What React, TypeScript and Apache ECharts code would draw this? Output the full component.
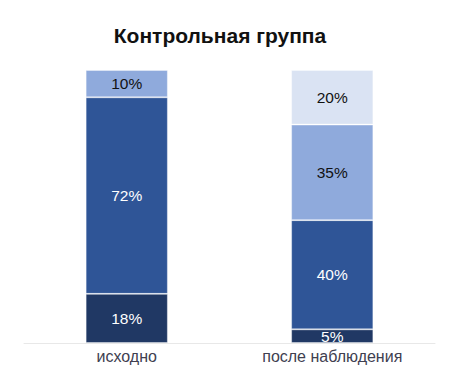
import React, { useEffect, useRef } from "react";
import * as echarts from "echarts";

const categories = ["исходно", "после наблюдения"];
const seriesNames = ["Уровень 1", "Уровень 2", "Уровень 3", "Уровень 4"];
const level1 = [18, 5];
const level2 = [72, 40];
const level3 = [10, 35];
const level4: (number | string)[] = ["-", 20];
const colors = ["#203864", "#2f5597", "#8faadc", "#dae3f3"];
const labelColors = ["#ffffff", "#ffffff", "#111111", "#111111"];

export default function App() {
  const ref = useRef<HTMLDivElement>(null);
  useEffect(() => {
    if (!ref.current) return;
    const chart = echarts.init(ref.current, undefined, { renderer: "svg" });
    const data = [level1, level2, level3, level4];
    chart.setOption({
      animation: false,
      title: {
        text: "Контрольная группа",
        left: 215,
        top: 20,
        textAlign: "center",
        textStyle: { fontFamily: "Arial, Liberation Sans", fontSize: 21, fontWeight: "bold", color: "#111111" },
      },
      grid: { left: 24, right: 15, top: 70, bottom: 37, containLabel: false },
      xAxis: {
        type: "category",
        data: categories,
        axisLine: { lineStyle: { color: "#e8e8e8", width: 1 } },
        axisTick: { show: false },
        axisLabel: { color: "#404050", fontSize: 16, fontFamily: "Arial, Liberation Sans", margin: 5 },
      },
      yAxis: { type: "value", min: 0, max: 100, show: false, splitLine: { show: false } },
      series: data.map((d, i) => ({
        name: seriesNames[i],
        type: "bar",
        stack: "total",
        barWidth: "40%",
        data: d,
        itemStyle: { color: colors[i], borderColor: "rgba(255,255,255,0.35)", borderWidth: 1 },
        label: {
          show: true,
          position: "inside",
          formatter: "{c}%",
          color: labelColors[i],
          fontSize: 15.5,
          fontFamily: "Arial, Liberation Sans",
        },
      })),
    });
    return () => chart.dispose();
  }, []);
  return <div ref={ref} style={{ width: 450, height: 380, margin: -8 }} />;
}
